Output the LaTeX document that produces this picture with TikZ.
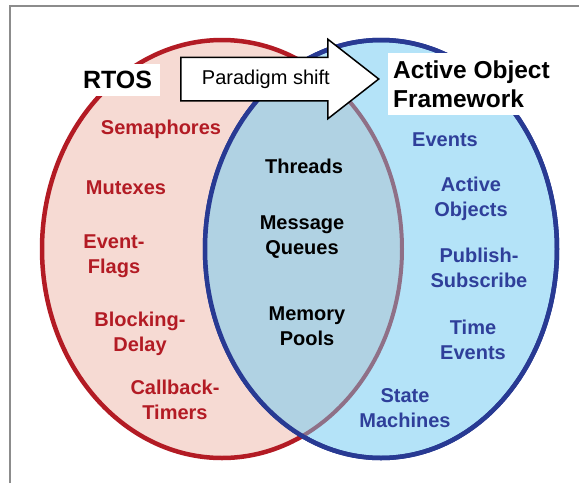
\documentclass[tikz,border=0pt]{standalone}
\usepackage{fontspec}
\setmainfont{Liberation Sans}
\usetikzlibrary{shapes.arrows}

\definecolor{rtosred}{HTML}{B31B24}
\definecolor{rtosfill}{HTML}{F6DAD3}
\definecolor{aofblue}{HTML}{283A93}
\definecolor{aoftext}{HTML}{2F3F9A}
\definecolor{aoffill}{HTML}{B4E3F8}
\definecolor{bothfill}{HTML}{B0D2E3}
\definecolor{bothline}{HTML}{8F7087}
\definecolor{framegray}{HTML}{8C8C8C}

\begin{document}
\begin{tikzpicture}[
    x=1pt, y=-1pt,
    frame/.style={draw=framegray, line width=1.5pt},
    rtosset/.style={draw=rtosred, line width=4.5pt, fill=rtosfill},
    aofset/.style={draw=aofblue, line width=4.5pt, fill=aoffill},
    bothset/.style={draw=bothline, line width=4pt, fill=bothfill},
    item/.style={font=\fontsize{20}{25}\selectfont\bfseries, align=center, inner sep=0pt},
    rtositem/.style={item, text=rtosred},
    aofitem/.style={item, text=aoftext},
    bothitem/.style={item, text=black},
    title/.style={fill=white, inner sep=0pt, font=\bfseries},
    shiftarrow/.style={single arrow, draw=black, line width=1.5pt, fill=white, font=\fontsize{20}{24}\selectfont,
        minimum height=198pt, single arrow head extend=18pt, single arrow tip angle=76,
        text height=14pt, text depth=4pt, inner ysep=12pt, inner xsep=4pt, anchor=tail}
]
\useasboundingbox (0,0) rectangle (579,483);

% Frame
\draw[frame] (10,483) -- (10,6) -- (579,6);

% Sets
\draw[rtosset] (222,249) ellipse [x radius=180, y radius=209];
\draw[aofset] (381,249) ellipse [x radius=176, y radius=209];
\begin{scope}
    \clip (381,249) ellipse [x radius=176, y radius=209];
    \draw[bothset] (222,249) ellipse [x radius=180, y radius=209];
\end{scope}
\draw[aofset, fill=none] (381,249) ellipse [x radius=176, y radius=209];

% Titles
\node[title, minimum width=85pt, minimum height=32pt, font=\fontsize{25}{30}\selectfont\bfseries] (rtos) at (117.5,80) {RTOS};
\node[title, minimum width=167pt, minimum height=62pt, align=left, font=\fontsize{24.5}{29}\selectfont\bfseries] (aof) at (471.5,84) {Active Object\\Framework};
\node[shiftarrow] (shift) at (180,79) {Paradigm shift};

% RTOS only
\node[rtositem] (sem) at (161,129) {Semaphores};
\node[rtositem] (mutex) at (126,188) {Mutexes};
\node[rtositem] (flags) at (114,256) {Event-\\Flags};
\node[rtositem] (delay) at (140,334) {Blocking-\\Delay};
\node[rtositem] (timers) at (175,400) {Callback-\\Timers};

% Both
\node[bothitem] (threads) at (304,166) {Threads};
\node[bothitem] (queues) at (302,237) {Message\\Queues};
\node[bothitem] (pools) at (307,326) {Memory\\Pools};

% Active Object Framework only
\node[aofitem] (events) at (445,140) {Events};
\node[aofitem] (aos) at (471,199) {Active\\Objects};
\node[aofitem] (pubsub) at (479,268) {Publish-\\Subscribe};
\node[aofitem] (timeevt) at (473,340) {Time\\Events};
\node[aofitem] (hsm) at (405,408) {State\\Machines};

\end{tikzpicture}
\end{document}
